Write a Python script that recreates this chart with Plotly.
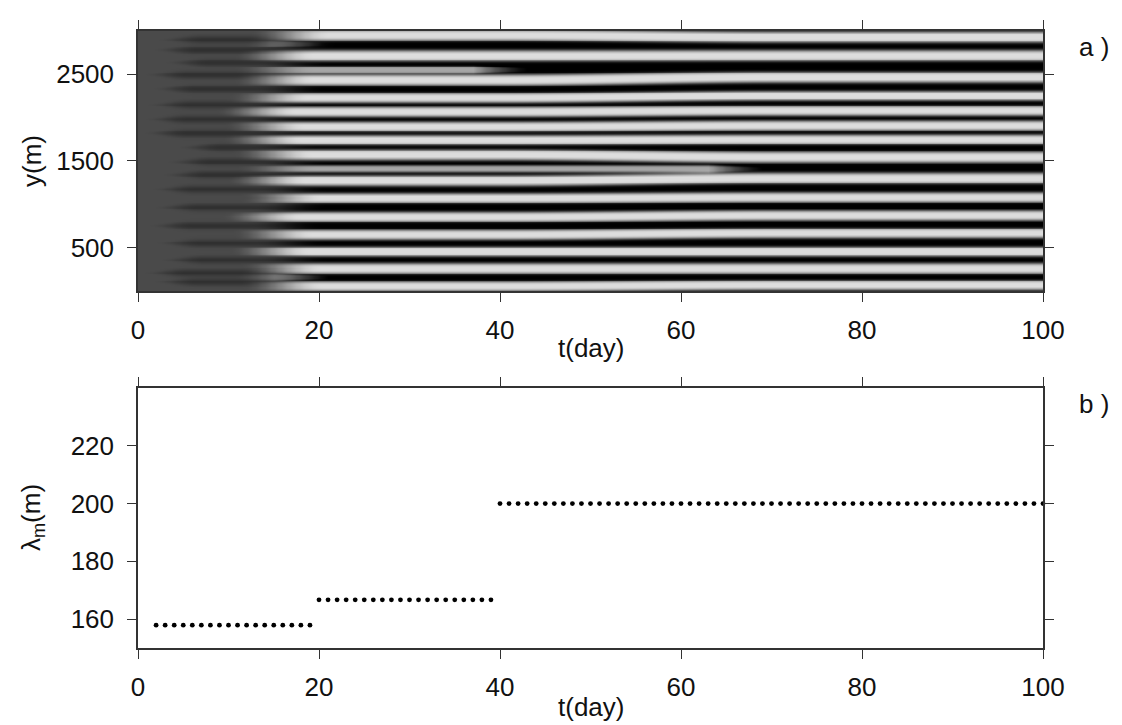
import numpy as np
import plotly.graph_objects as go

# ---------------- data ----------------
# panel a: stripe pattern (bright band centres in y, onset / end days)
band_y = [57, 160, 263, 458, 653, 859, 1076, 1277, 1412, 1574, 1746,
          1901, 2072, 2233, 2439, 2557, 2719, 2851, 2957]
band_y_late = [70, 160, 263, 458, 670, 875, 1085, 1305, 1412, 1548, 1752,
               1912, 2084, 2256, 2470, 2557, 2720, 2851, 2935]
band_onset = [11.5, 10.5, 11.5, 10.0, 10.5, 9.0, 11.5, 9.6, 10.8, 10.5, 9.2,
              9.6, 8.5, 10.0, 10.5, 10.5, 10.5, 11.5, 12.3]
band_end = [999, 21, 999, 999, 999, 999, 999, 999, 69, 999, 999,
            999, 999, 999, 999, 43, 999, 20.5, 999]
band_width = [62, 36, 66, 62, 62, 62, 62, 68, 44, 68, 62,
              62, 62, 62, 68, 44, 70, 36, 70]
band_amp = [1, 0.8, 1, 1, 1, 1, 1, 1, 0.8, 1, 1,
            1, 1, 1, 1, 0.8, 1, 0.8, 1]
finger_start = [1.5, 0.4, 2.2, 1.8, 1.0, 1.6, 1.2, 2.5, 3.0, 4.2, 0.4,
                0.4, 0.8, 1.4, 0.5, 2.8, 1.5, 2.0]

# panel b: dominant wavelength per regime
regime_start = [2, 20, 40]
regime_end = [19, 39, 100]
regime_lambda = [157.9, 166.7, 200.0]

x_ticks = [0, 20, 40, 60, 80, 100]
y_ticks_a = [500, 1500, 2500]
y_ticks_b = [160, 180, 200, 220]

# ---------------- build field ----------------
t = np.arange(0, 100.001, 0.25)
y = np.arange(0, 3000.001, 10)
T, Y = np.meshgrid(t, y)


def smooth(x):
    s = np.clip(x, 0, 1)
    return s * s * (3 - 2 * s)


B = np.zeros_like(T)
for c0, c1, te, w, amp in zip(band_y, band_y_late, band_end, band_width, band_amp):
    if te < 900:
        a = np.clip((te - T) / 6.0, 0, 1)
        c = np.full_like(T, float(c0))
    else:
        a = np.ones_like(T)
        c = c0 + (c1 - c0) * smooth((T - 40) / 30.0)
    wk = w * (0.45 + 0.55 * a)
    B += amp * a * np.exp(-np.abs((Y - c) / wk) ** 4)
bands_v = 0.93 * np.clip(B, 0, 1) ** 1.3

gaps = [(band_y[i] + band_y[i + 1]) / 2 for i in range(len(band_y) - 1)]
F = np.zeros_like(T)
for gc, fs in zip(gaps, finger_start):
    r = smooth((T - fs) / 5.0)
    F += r * np.exp(-((Y - gc) / (10 + 30 * r + 1e-6)) ** 2)
early = 0.31 - 0.11 * np.clip(F, 0, 1)

onset = np.interp(Y, band_y, band_onset)
g_b = smooth((T - onset) / 9.0)
g_d = smooth((T - onset - 2.5) / 8.0)
Z = early + g_b * np.maximum(bands_v - early, 0) - g_d * np.maximum(early - bands_v, 0)

# ---------------- figure ----------------
fig = go.Figure()
fig.add_trace(go.Heatmap(
    x=t, y=y, z=Z, zmin=0, zmax=1, zsmooth="best",
    colorscale=[[0, "#000000"], [1, "#eeeeee"]], showscale=False,
    xaxis="x", yaxis="y", hoverinfo="skip"))

for ts, te, lam in zip(regime_start, regime_end, regime_lambda):
    tt = list(range(ts, te + 1))
    fig.add_trace(go.Scatter(
        x=tt, y=[lam] * len(tt), mode="markers",
        marker=dict(color="black", size=4.8),
        xaxis="x2", yaxis="y2", cliponaxis=False, showlegend=False))

font = dict(family="Liberation Sans, Arial, sans-serif", size=26, color="#111111")
axis_common = dict(
    showline=True, linecolor="#333333", linewidth=1.5, mirror="ticks",
    ticks="outside", ticklen=9, tickwidth=1.3, tickcolor="#333333",
    showgrid=False, zeroline=False, tickfont=font)

L, R, TOP, BOT = 130, 87, 18, 85
H = 725 - TOP - BOT
fig.update_layout(
    width=1122, height=725,
    margin=dict(l=L, r=R, t=TOP, b=BOT),
    paper_bgcolor="white", plot_bgcolor="white",
    showlegend=False, font=font,
    xaxis=dict(domain=[0, 1], range=[0, 100], tickvals=x_ticks,
               anchor="y", ticklabelstandoff=6, **axis_common),
    yaxis=dict(domain=[1 - 262 / H, 1], range=[0, 3000], tickvals=y_ticks_a,
               anchor="x", ticklabelstandoff=8, **axis_common),
    xaxis2=dict(domain=[0, 1], range=[0, 100], tickvals=x_ticks,
                anchor="y2", ticklabelstandoff=6, **axis_common),
    yaxis2=dict(domain=[0, 262 / H], range=[150, 240], tickvals=y_ticks_b,
                anchor="x2", ticklabelstandoff=8, **axis_common),
)


def px_x(px):
    return (px - L) / (1122 - L - R)


def px_y(py):
    return (725 - BOT - py) / H


ann = [
    dict(text="t(day)", x=px_x(583), y=px_y(338)),
    dict(text="t(day)", x=px_x(583), y=px_y(699)),
    dict(text="y(m)", x=px_x(24), y=px_y(149), textangle=-90),
    dict(text="λ<sub>m</sub>(m)", x=px_x(24), y=px_y(509), textangle=-90),
    dict(text="a )", x=px_x(1086), y=px_y(34)),
    dict(text="b )", x=px_x(1086), y=px_y(394)),
]
for a in ann:
    fig.add_annotation(xref="paper", yref="paper", showarrow=False,
                       xanchor="center", yanchor="middle", font=font, **a)

fig.write_html("out.html")
